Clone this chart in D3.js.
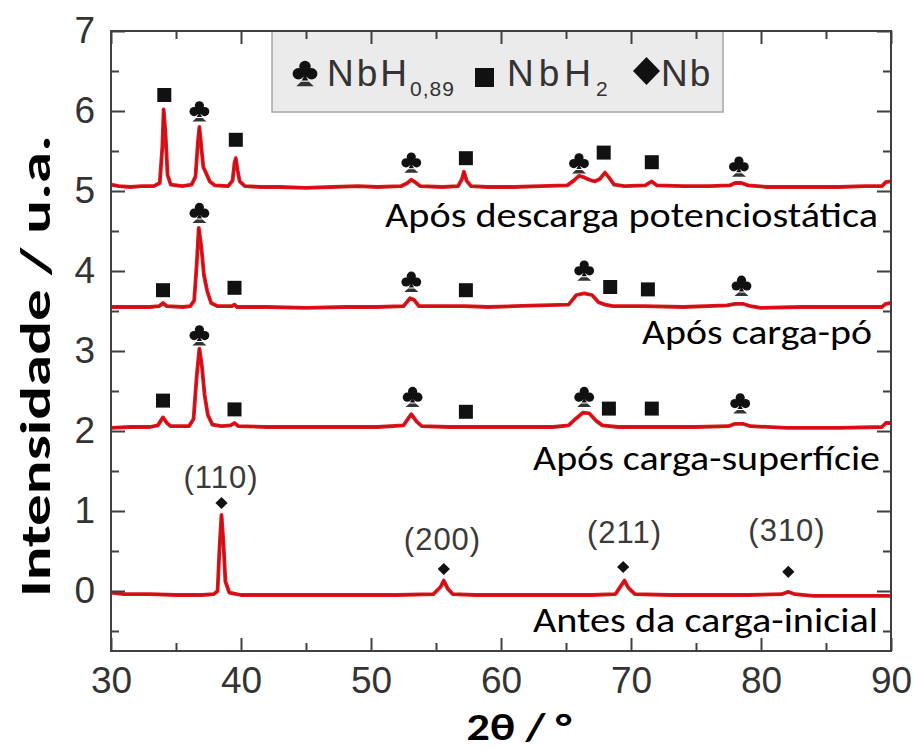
<!DOCTYPE html>
<html><head><meta charset="utf-8">
<script src="https://cdn.jsdelivr.net/npm/d3@7"></script>
<style>html,body{margin:0;padding:0;background:#fff;}svg{display:block;}</style>
</head><body>
<svg id="chart" width="913" height="751"></svg>
<script>
// ---------- DATA ----------
const xTicks = [30, 40, 50, 60, 70, 80, 90];
const yTicks = [0, 1, 2, 3, 4, 5, 6, 7];
const sampleNames = ["Após descarga potenciostática", "Após carga-pó", "Após carga-superfície", "Antes da carga-inicial"];

const traceDescarga = [
  [30,5.08],[30.6,5.06],[31.5,5.05],[32.4,5.06],[33.3,5.06],[33.75,5.1],[33.95,5.55],[34.05,6.02],[34.2,5.7],[34.35,5.2],[34.6,5.08],
  [35.5,5.06],[36.2,5.08],[36.5,5.18],[36.68,5.6],[36.8,5.8],[36.95,5.55],[37.1,5.3],[37.3,5.23],[37.6,5.12],[38,5.07],
  [39,5.06],[39.35,5.13],[39.5,5.35],[39.6,5.41],[39.75,5.25],[39.9,5.12],[40.3,5.06],[41.5,5.05],[43,5.05],[45,5.04],[47,5.05],
  [49,5.06],[50.5,5.05],[52.3,5.06],[52.8,5.1],[53.1,5.14],[53.4,5.11],[53.8,5.06],[55.5,5.05],[56.7,5.06],[57.0,5.15],[57.15,5.24],
  [57.35,5.13],[57.7,5.06],[59,5.05],[61,5.05],[63,5.06],[65.1,5.07],[65.6,5.13],[66.0,5.19],[66.4,5.17],[66.8,5.14],[67.2,5.12],
  [67.6,5.15],[68.0,5.23],[68.3,5.17],[68.7,5.08],[69.5,5.06],[71.1,5.07],[71.6,5.12],[72.0,5.07],[74,5.06],[76,5.06],[77.6,5.07],
  [78.0,5.1],[78.5,5.1],[79.0,5.07],[80.5,5.05],[83,5.05],[86,5.05],[88,5.06],[89.3,5.06],[89.6,5.11],[90,5.12]
];
const traceCargaPo = [
  [30,3.55],[31.5,3.55],[33.0,3.55],[33.7,3.56],[34.0,3.6],[34.3,3.56],[35.5,3.55],[36.1,3.56],[36.4,3.63],[36.6,4.1],[36.75,4.54],
  [36.95,4.3],[37.15,3.95],[37.4,3.75],[37.7,3.6],[38.2,3.56],[39.3,3.56],[39.5,3.58],[39.7,3.55],[42,3.55],[45,3.54],[48,3.55],
  [50.5,3.55],[52.5,3.56],[53.0,3.66],[53.3,3.64],[53.7,3.56],[55.5,3.56],[57.2,3.56],[59,3.55],[61,3.56],[63,3.57],[65.2,3.58],
  [65.8,3.70],[66.4,3.72],[67.0,3.70],[67.5,3.61],[68.0,3.58],[68.6,3.56],[71,3.56],[74,3.55],[77.4,3.57],[78.0,3.59],[78.6,3.59],
  [79.2,3.56],[80,3.54],[83,3.55],[86,3.55],[89.3,3.55],[89.6,3.59],[90,3.6]
];
const traceCargaSup = [
  [30,2.04],[31.5,2.05],[33.0,2.05],[33.6,2.07],[34.0,2.17],[34.3,2.1],[34.6,2.06],[36.0,2.06],[36.35,2.15],[36.6,2.7],[36.8,3.03],
  [37.0,2.8],[37.2,2.45],[37.45,2.2],[37.8,2.08],[38.5,2.06],[39.2,2.07],[39.5,2.1],[39.8,2.06],[42,2.05],[45,2.05],[48,2.05],
  [50.5,2.05],[52.5,2.07],[53.1,2.21],[53.5,2.12],[53.9,2.06],[56,2.05],[58,2.05],[61,2.05],[64,2.05],[65.2,2.07],[65.8,2.16],
  [66.3,2.23],[66.8,2.22],[67.3,2.13],[67.8,2.07],[69,2.05],[72,2.05],[75,2.05],[77.5,2.06],[78.0,2.09],[78.6,2.09],[79.2,2.06],
  [82,2.04],[86,2.04],[89.3,2.05],[89.6,2.1],[90,2.1]
];
const traceAntes = [
  [30,-0.02],[31,-0.04],[33,-0.04],[35,-0.05],[37,-0.05],[37.9,-0.04],[38.2,0.0],[38.35,0.55],[38.5,0.95],[38.65,0.6],[38.8,0.12],
  [39.1,-0.02],[40,-0.05],[43,-0.05],[46,-0.05],[49,-0.05],[52,-0.05],[54.8,-0.04],[55.35,0.05],[55.6,0.13],[55.9,0.03],[56.3,-0.04],
  [58,-0.05],[61,-0.05],[64,-0.05],[67,-0.05],[68.8,-0.04],[69.25,0.07],[69.5,0.13],[69.8,0.04],[70.3,-0.04],[73,-0.05],[76,-0.05],
  [79,-0.05],[81.6,-0.04],[82.1,-0.01],[82.6,-0.04],[84,-0.06],[87,-0.06],[90,-0.06]
];
const traces = [traceDescarga, traceCargaPo, traceCargaSup, traceAntes];

// phase markers [2θ, y]
const clubMarks = [[36.8,6.0],[53.1,5.36],[66.0,5.35],[78.3,5.31],
                   [36.8,4.73],[53.1,3.87],[66.4,4.01],[78.5,3.82],
                   [36.8,3.2],[53.2,2.43],[66.4,2.43],[78.4,2.35]];
const squareMarks = [[34.1,6.2],[39.6,5.64],[57.3,5.41],[67.9,5.48],[71.6,5.36],
                     [34.0,3.76],[39.5,3.79],[57.3,3.76],[68.4,3.8],[71.3,3.77],
                     [34.0,2.38],[39.5,2.27],[57.3,2.24],[68.3,2.28],[71.6,2.28]];
const diamondMarks = [[38.5,1.1],[55.6,0.275],[69.4,0.3],[82.1,0.24]];
const hklLabels = ["(110)", "(200)", "(211)", "(310)"];
const hklPos = [[38.46,1.29],[55.5,0.51],[69.5,0.6],[82.0,0.63]];

// ---------- LAYOUT ----------
const svg = d3.select("#chart");
const L = 111, R = 891, T = 31, B = 651;
const x = d3.scaleLinear().domain([30, 90]).range([L, R]);
const y = d3.scaleLinear().domain([-0.75, 7]).range([B, T]);
const tickFont = "'Liberation Sans', Arial, sans-serif";
const textFont = "Carlito, Calibri, 'Open Sans', sans-serif";

// club symbol drawn from circles and a base
function drawClub(g, cx, cy, s) {
  const c = g.append("g").attr("transform", `translate(${cx},${cy}) scale(${s})`).attr("fill", "#111");
  c.append("circle").attr("cx", 0).attr("cy", -5.2).attr("r", 4.6);
  c.append("circle").attr("cx", -5.3).attr("cy", 0.6).attr("r", 4.6);
  c.append("circle").attr("cx", 5.3).attr("cy", 0.6).attr("r", 4.6);
  c.append("path").attr("d", "M-3,-2 L3,-2 L2.2,3 L-2.2,3 Z");
  c.append("path").attr("d", "M0,1 L-2.6,6 L2.6,6 Z");
  c.append("path").attr("d", "M-7,10.5 L-3.2,7 L3.2,7 L7,10.5 Z").attr("fill", "#333");
}

// legend box (under axes)
const lg = svg.append("g");
lg.append("rect").attr("x", 272).attr("y", T).attr("width", 451).attr("height", 81)
  .attr("fill", "#ebebeb").attr("stroke", "#a8a8a8").attr("stroke-width", 1.5);
drawClub(lg, 305, 73, 1.25);
const t1 = lg.append("text").attr("x", 327).attr("y", 86).attr("font-family", tickFont)
  .attr("font-size", 37).attr("fill", "#333").attr("letter-spacing", 3);
t1.append("tspan").text("NbH");
t1.append("tspan").attr("font-size", 21).attr("dy", 10).attr("letter-spacing", 1).text("0,89");
lg.append("rect").attr("x", 475).attr("y", 68).attr("width", 19).attr("height", 19).attr("fill", "#111");
const t2 = lg.append("text").attr("x", 507).attr("y", 86).attr("font-family", tickFont)
  .attr("font-size", 37).attr("fill", "#333").attr("letter-spacing", 5);
t2.append("tspan").text("NbH");
t2.append("tspan").attr("font-size", 21).attr("dy", 10).text("2");
lg.append("path").attr("d", "M646.5,57 L660,71 L646.5,85 L633,71 Z").attr("fill", "#111");
lg.append("text").attr("x", 661).attr("y", 86).attr("font-family", tickFont)
  .attr("font-size", 37).attr("fill", "#333").attr("letter-spacing", 2).text("Nb");

// traces
const line = d3.line().x(d => x(d[0])).y(d => y(d[1]));
const tg = svg.append("g");
traces.forEach(tr => {
  tg.append("path").attr("d", line(tr)).attr("fill", "none").attr("stroke", "#e3141b")
    .attr("stroke-width", 3.8).attr("stroke-linejoin", "round");
  tg.append("path").attr("d", line(tr)).attr("fill", "none").attr("stroke", "#7a0a0a")
    .attr("stroke-width", 1).attr("stroke-opacity", 0.45);
});

// markers
const cg = svg.append("g");
clubMarks.forEach(d => drawClub(cg, x(d[0]), y(d[1]), 1.0));
svg.append("g").selectAll("path").data(squareMarks).join("path")
  .attr("transform", d => `translate(${x(d[0])},${y(d[1])})`)
  .attr("d", d3.symbol().type(d3.symbolSquare).size(196)).attr("fill", "#111");
svg.append("g").selectAll("path").data(diamondMarks).join("path")
  .attr("transform", d => `translate(${x(d[0])},${y(d[1])}) rotate(45)`)
  .attr("d", d3.symbol().type(d3.symbolSquare).size(75)).attr("fill", "#111");
svg.append("g").selectAll("text").data(hklLabels).join("text")
  .attr("x", (d, i) => x(hklPos[i][0])).attr("y", (d, i) => y(hklPos[i][1]))
  .attr("text-anchor", "middle").attr("font-family", tickFont).attr("font-size", 31)
  .attr("fill", "#3a3a3a").attr("letter-spacing", 1).text(d => d);

// sample annotations
const annX = [385, 642, 533, 533], annLen = [493, 230, 347, 345], annY = [226.5, 343.5, 469.5, 631.5];
svg.append("g").selectAll("text").data(sampleNames).join("text")
  .attr("x", (d, i) => annX[i]).attr("y", (d, i) => annY[i]).attr("font-family", textFont)
  .attr("font-size", 34).attr("fill", "#000")
  .attr("textLength", (d, i) => annLen[i]).attr("lengthAdjust", "spacingAndGlyphs").text(d => d);

// axes (ticks inward on all four sides)
const axisColor = "#404040";
function styleAxis(g) {
  g.select(".domain").remove();
  g.selectAll("line").attr("stroke", axisColor).attr("stroke-width", 2);
  g.selectAll("text").attr("font-family", tickFont).attr("font-size", 37).attr("fill", "#333");
}
const xMinor = [35, 45, 55, 65, 75, 85];
const yMinor = [-0.5, 0.5, 1.5, 2.5, 3.5, 4.5, 5.5, 6.5];
svg.append("g").attr("transform", `translate(0,${B})`)
  .call(d3.axisBottom(x).tickValues(xTicks).tickSizeInner(-13).tickSizeOuter(0).tickPadding(16).tickFormat(d3.format("d"))).call(styleAxis);
svg.append("g").attr("transform", `translate(0,${B})`)
  .call(d3.axisBottom(x).tickValues(xMinor).tickSizeInner(-8).tickSizeOuter(0).tickFormat("")).call(styleAxis);
svg.append("g").attr("transform", `translate(0,${T})`)
  .call(d3.axisTop(x).tickValues(xTicks).tickSizeInner(-13).tickSizeOuter(0).tickFormat("")).call(styleAxis);
svg.append("g").attr("transform", `translate(0,${T})`)
  .call(d3.axisTop(x).tickValues(xMinor).tickSizeInner(-8).tickSizeOuter(0).tickFormat("")).call(styleAxis);
svg.append("g").attr("transform", `translate(${L},0)`)
  .call(d3.axisLeft(y).tickValues(yTicks).tickSizeInner(-14).tickSizeOuter(0).tickPadding(16).tickFormat(d3.format("d"))).call(styleAxis);
svg.append("g").attr("transform", `translate(${L},0)`)
  .call(d3.axisLeft(y).tickValues(yMinor).tickSizeInner(-8).tickSizeOuter(0).tickFormat("")).call(styleAxis);
svg.append("g").attr("transform", `translate(${R},0)`)
  .call(d3.axisRight(y).tickValues(yTicks).tickSizeInner(-14).tickSizeOuter(0).tickFormat("")).call(styleAxis);
svg.append("g").attr("transform", `translate(${R},0)`)
  .call(d3.axisRight(y).tickValues(yMinor).tickSizeInner(-8).tickSizeOuter(0).tickFormat("")).call(styleAxis);
svg.append("rect").attr("x", L).attr("y", T).attr("width", R - L).attr("height", B - T)
  .attr("fill", "none").attr("stroke", axisColor).attr("stroke-width", 2);

// axis titles
svg.append("text").attr("transform", `translate(50,366) rotate(-90)`).attr("text-anchor", "middle")
  .attr("font-family", textFont).attr("font-weight", "bold").attr("font-size", 43).attr("fill", "#000")
  .attr("textLength", 462).attr("lengthAdjust", "spacingAndGlyphs").text("Intensidade / u.a.");
svg.append("text").attr("x", 519).attr("y", 740).attr("text-anchor", "middle")
  .attr("font-family", textFont).attr("font-weight", "bold").attr("font-size", 38).attr("fill", "#000")
  .attr("textLength", 105).attr("lengthAdjust", "spacingAndGlyphs").text("2θ / °");
</script>
</body></html>
